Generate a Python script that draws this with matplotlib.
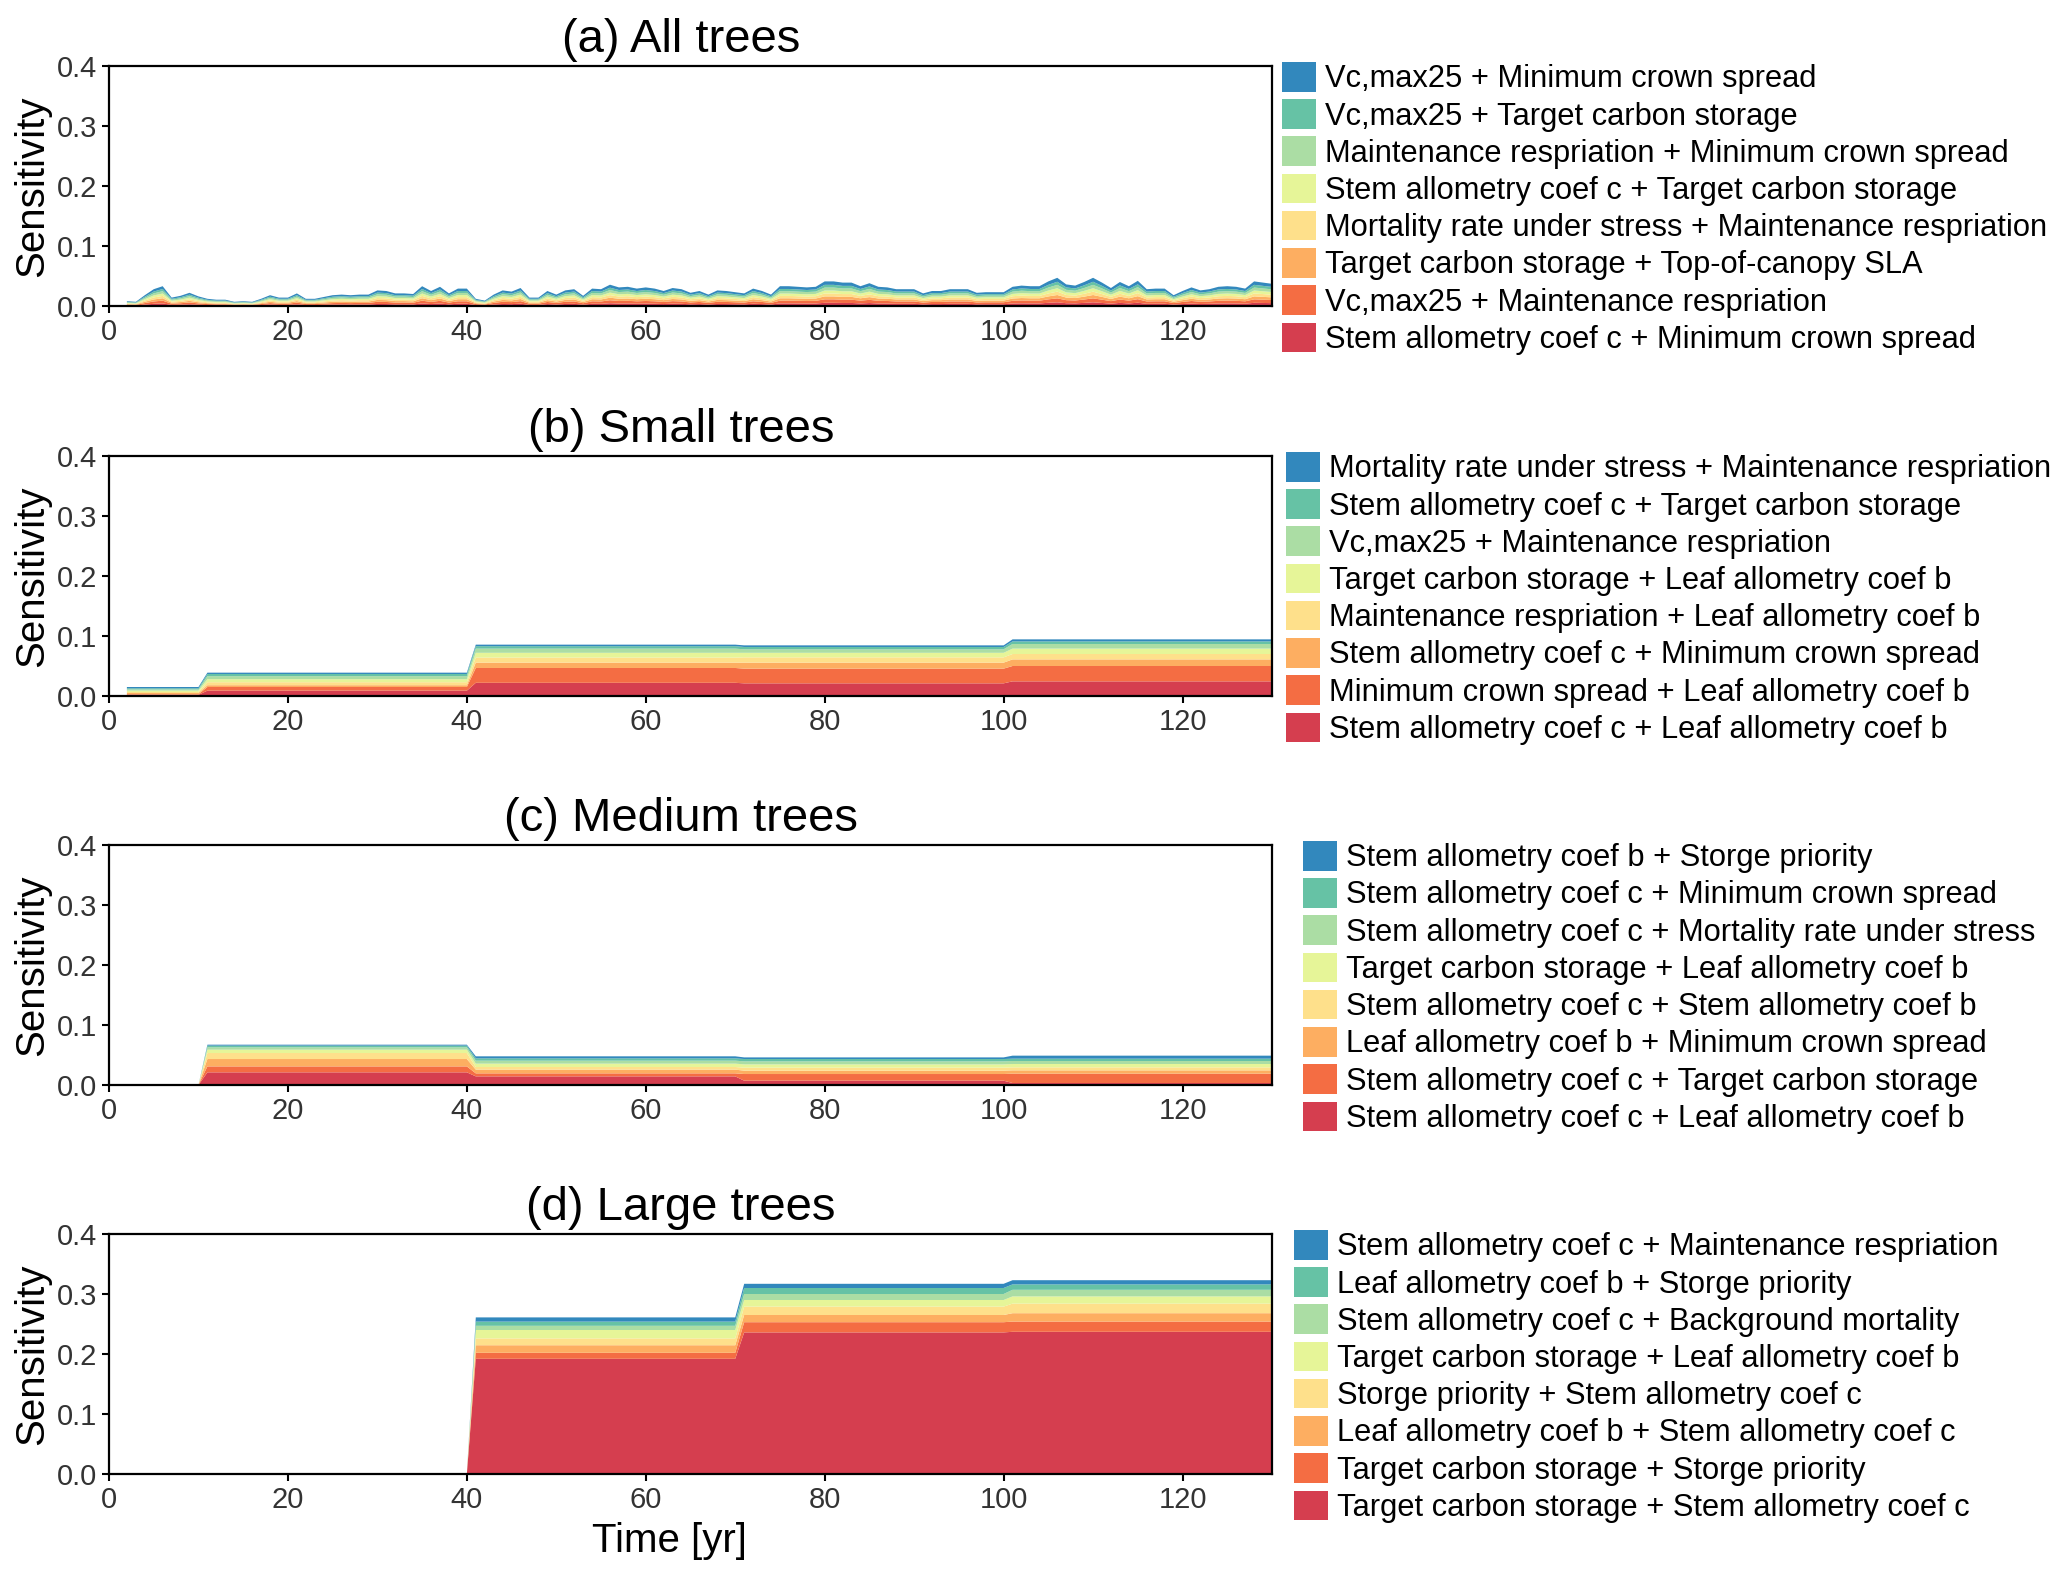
import numpy as np
import matplotlib
matplotlib.use("Agg")
import matplotlib.pyplot as plt
from matplotlib.patches import Patch

plt.rcParams['font.family'] = ['Liberation Sans', 'DejaVu Sans']

# Spectral colours, legend order (top of the stack first)
colors = ['#3288BD', '#66C2A5', '#ABDDA4', '#E6F598',
          '#FEE08B', '#FDAE61', '#F46D43', '#D53E4F']

years = np.arange(2, 131)

# (a) all trees: total sensitivity per year
total_a = [0.008, 0.007, 0.018, 0.028, 0.033, 0.014, 0.017, 0.022, 0.016, 0.012,
           0.0105, 0.0105, 0.007, 0.008, 0.007, 0.012, 0.018, 0.014, 0.014, 0.021,
           0.012, 0.012, 0.015, 0.018, 0.019, 0.018, 0.019, 0.019, 0.026, 0.025,
           0.021, 0.021, 0.020, 0.033, 0.025, 0.032, 0.021, 0.029, 0.029, 0.012,
           0.009, 0.019, 0.026, 0.024, 0.030, 0.014, 0.014, 0.025, 0.019, 0.026,
           0.028, 0.017, 0.029, 0.028, 0.0355, 0.031, 0.032, 0.029, 0.031, 0.029,
           0.025, 0.030, 0.028, 0.022, 0.025, 0.019, 0.026, 0.025, 0.023, 0.021,
           0.029, 0.025, 0.019, 0.033, 0.033, 0.032, 0.031, 0.032, 0.041, 0.041,
           0.039, 0.039, 0.033, 0.038, 0.032, 0.031, 0.028, 0.028, 0.028, 0.021,
           0.025, 0.025, 0.028, 0.028, 0.028, 0.022, 0.023, 0.023, 0.023, 0.032,
           0.034, 0.033, 0.033, 0.041, 0.047, 0.036, 0.034, 0.040, 0.047, 0.039,
           0.030, 0.040, 0.033, 0.042, 0.028, 0.029, 0.029, 0.018, 0.025, 0.031,
           0.026, 0.028, 0.032, 0.033, 0.032, 0.029, 0.041, 0.039, 0.037]
# share of each pair in the total (legend order)
share_a = [0.14, 0.11, 0.12, 0.12, 0.12, 0.12, 0.14, 0.13]

labels_a = ['Vc,max25 + Minimum crown spread',
            'Vc,max25 + Target carbon storage',
            'Maintenance respriation + Minimum crown spread',
            'Stem allometry coef c + Target carbon storage',
            'Mortality rate under stress + Maintenance respriation',
            'Target carbon storage + Top-of-canopy SLA',
            'Vc,max25 + Maintenance respriation',
            'Stem allometry coef c + Minimum crown spread']

# (b)-(d): piecewise constant layers; period start years and values (legend order)
period_start = [2, 11, 41, 71, 101]

labels_b = ['Mortality rate under stress + Maintenance respriation',
            'Stem allometry coef c + Target carbon storage',
            'Vc,max25 + Maintenance respriation',
            'Target carbon storage + Leaf allometry coef b',
            'Maintenance respriation + Leaf allometry coef b',
            'Stem allometry coef c + Minimum crown spread',
            'Minimum crown spread + Leaf allometry coef b',
            'Stem allometry coef c + Leaf allometry coef b']
values_b = [[0.0022, 0.0018, 0.0020, 0.0023, 0.0017, 0.0020, 0.0010, 0.0020],
            [0.0022, 0.0037, 0.0050, 0.0050, 0.0050, 0.0030, 0.0061, 0.0089],
            [0.0026, 0.0040, 0.0070, 0.0080, 0.0084, 0.0089, 0.0247, 0.0220],
            [0.0027, 0.0039, 0.0058, 0.0076, 0.0088, 0.0100, 0.0245, 0.0211],
            [0.0034, 0.0043, 0.0077, 0.0090, 0.0090, 0.0110, 0.0256, 0.0244]]

labels_c = ['Stem allometry coef b + Storge priority',
            'Stem allometry coef c + Minimum crown spread',
            'Stem allometry coef c + Mortality rate under stress',
            'Target carbon storage + Leaf allometry coef b',
            'Stem allometry coef c + Stem allometry coef b',
            'Leaf allometry coef b + Minimum crown spread',
            'Stem allometry coef c + Target carbon storage',
            'Stem allometry coef c + Leaf allometry coef b']
values_c = [[0.0, 0.0, 0.0, 0.0, 0.0, 0.0, 0.0, 0.0],
            [0.0016, 0.0028, 0.0039, 0.0056, 0.0100, 0.0123, 0.0099, 0.0211],
            [0.0034, 0.0038, 0.0050, 0.0056, 0.0044, 0.0062, 0.0050, 0.0144],
            [0.0027, 0.0039, 0.0050, 0.0055, 0.0050, 0.0056, 0.0111, 0.0072],
            [0.0050, 0.0039, 0.0050, 0.0056, 0.0050, 0.0055, 0.0156, 0.0033]]

labels_d = ['Stem allometry coef c + Maintenance respriation',
            'Leaf allometry coef b + Storge priority',
            'Stem allometry coef c + Background mortality',
            'Target carbon storage + Leaf allometry coef b',
            'Storge priority + Stem allometry coef c',
            'Leaf allometry coef b + Stem allometry coef c',
            'Target carbon storage + Storge priority',
            'Target carbon storage + Stem allometry coef c']
values_d = [[0.0, 0.0, 0.0, 0.0, 0.0, 0.0, 0.0, 0.0],
            [0.0, 0.0, 0.0, 0.0, 0.0, 0.0, 0.0, 0.0],
            [0.007, 0.007, 0.007, 0.014, 0.0114, 0.0126, 0.010, 0.192],
            [0.007, 0.010, 0.010, 0.011, 0.014, 0.012, 0.017, 0.236],
            [0.007, 0.009, 0.011, 0.012, 0.016, 0.014, 0.017, 0.237]]

titles = ['(a) All trees', '(b) Small trees', '(c) Medium trees', '(d) Large trees']


def layers_from_periods(values):
    vals = np.array(values)
    idx = np.searchsorted(period_start, years, side='right') - 1
    return vals[idx].T  # (8, n_years), legend order


layers_a = np.outer(share_a, total_a)
panels = [(layers_a, labels_a),
          (layers_from_periods(values_b), labels_b),
          (layers_from_periods(values_c), labels_c),
          (layers_from_periods(values_d), labels_d)]

W, H = 2067, 1575
fig = plt.figure(figsize=(W / 100, H / 100), dpi=100)

ax_top_px = [66, 456, 845, 1234]
leg_x_px = [1282, 1286, 1303, 1294]
ax_h_px = 240

for i, (layers, labels) in enumerate(panels):
    top = ax_top_px[i]
    ax = fig.add_axes([109 / W, 1 - (top + ax_h_px) / H, 1163 / W, ax_h_px / H])
    # stack with the last legend entry at the bottom
    ax.stackplot(years, layers[::-1], colors=colors[::-1], linewidth=0)
    ax.set_xlim(0, 130)
    ax.set_ylim(0, 0.4)
    ax.set_xticks([0, 20, 40, 60, 80, 100, 120])
    ax.set_yticks([0.0, 0.1, 0.2, 0.3, 0.4])
    ax.set_yticklabels(['0.0', '0.1', '0.2', '0.3', '0.4'])
    ax.tick_params(axis='both', labelsize=21, labelcolor='#333333',
                   length=5, width=1.5, direction='out')
    for sp in ax.spines.values():
        sp.set_linewidth(1.6)
        sp.set_color('black')
    ax.set_ylabel('Sensitivity', fontsize=29, labelpad=4)
    ax.set_title(titles[i], fontsize=34, pad=10, x=0.492)
    if i == 3:
        ax.set_xlabel('Time [yr]', fontsize=29, labelpad=6)
        ax.xaxis.set_label_coords(0.482, -0.2)

    handles = [Patch(facecolor=c, edgecolor='none') for c in colors]
    fig.legend(handles, labels, loc='upper left',
               bbox_to_anchor=(leg_x_px[i] / W, 1 - (top - 4) / H),
               frameon=False, fontsize=22.2, borderpad=0, borderaxespad=0,
               handlelength=1.1, handleheight=1.1, handletextpad=0.28,
               labelspacing=0.16)

fig.savefig('out.png', dpi=100)
